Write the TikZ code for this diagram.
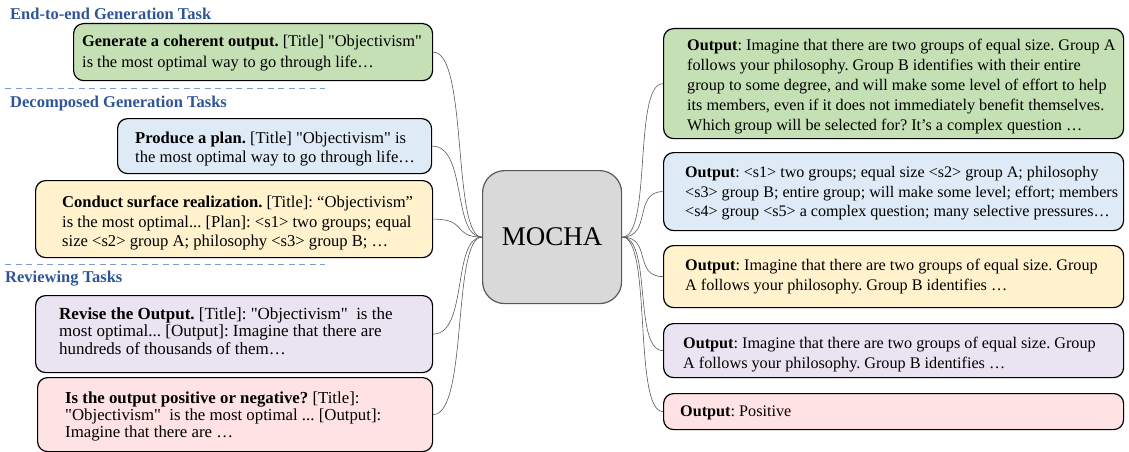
\documentclass[tikz,border=0pt]{standalone}
\usepackage{fontspec}
\setmainfont{Liberation Serif}[Ligatures=TeXOff]
\frenchspacing
\definecolor{cgreen}{HTML}{C5E0B4}
\definecolor{cblue}{HTML}{DEEBF7}
\definecolor{cyellow}{HTML}{FFF2CC}
\definecolor{cpurple}{HTML}{EAE4F2}
\definecolor{cpink}{HTML}{FFE2E4}
\definecolor{chead}{HTML}{2F5597}
\definecolor{cdash}{HTML}{7F9CCF}
\definecolor{cgrayfill}{HTML}{D9D9D9}
\definecolor{cconn}{HTML}{595959}
\tikzset{
  box/.style={draw=black, line width=1.2pt, rounded corners=10pt, anchor=north west, inner sep=0pt},
  txt/.style={anchor=west, inner sep=0pt, align=left, execute at begin node=\frenchspacing},
  heading/.style={anchor=west, inner sep=0pt, text=chead, font=\fontsize{16.5}{19}\selectfont\bfseries},
  dashline/.style={draw=cdash, line width=1pt, dash pattern=on 6pt off 4.5pt},
  conn/.style={draw=cconn, line width=0.6pt},
  centerbox/.style={draw=cconn, line width=1.2pt, fill=cgrayfill, rounded corners=22pt, anchor=north west, inner sep=0pt, font=\fontsize{27}{30}\selectfont},
}
\begin{document}
\begin{tikzpicture}[x=1pt, y=-1pt]
\useasboundingbox (0,0) rectangle (1129,452);

% headings and separators
\node[heading] (h1) at (10,14) {End-to-end Generation Task};
\coordinate (d1a) at (5,88);
\coordinate (d1b) at (325,88);
\draw[dashline] (d1a) -- (d1b);
\node[heading] (h2) at (10,104) {Decomposed Generation Tasks};
\coordinate (d2a) at (5,264);
\coordinate (d2b) at (325,264);
\draw[dashline] (d2a) -- (d2b);
\node[heading] (h3) at (5,279) {Reviewing Tasks};

% center
\node[centerbox, minimum width=139pt, minimum height=133pt] (mocha) at (482,170) {MOCHA};

% left boxes
\node[box, fill=cgreen, minimum width=359pt, minimum height=57pt] (lg) at (73,23) {};
\node[txt, font=\fontsize{16.4}{20.5}\selectfont] (lgt) at ([xshift=9pt,yshift=-1pt]lg.west)
  {\textbf{Generate a coherent output.} [Title] "Objectivism"\\is the most optimal way to go through life…};
\node[box, fill=cblue, minimum width=314pt, minimum height=55pt] (lb) at (117,118) {};
\node[txt, font=\fontsize{16.6}{19.5}\selectfont] (lbt) at ([xshift=18pt,yshift=-3pt]lb.west)
  {\textbf{Produce a plan.} [Title] "Objectivism" is\\the most optimal way to go through life…};
\node[box, fill=cyellow, minimum width=397pt, minimum height=77pt] (ly) at (35,180) {};
\node[txt, font=\fontsize{16.6}{19.5}\selectfont] (lyt) at ([xshift=27pt,yshift=-4pt]ly.west)
  {\textbf{Conduct surface realization.} [Title]: “Objectivism”\\is the most optimal... [Plan]: <s1> two groups; equal\\size <s2> group A; philosophy <s3> group B; …};
\node[box, fill=cpurple, minimum width=397pt, minimum height=77pt] (lp) at (35,295) {};
\node[txt, font=\fontsize{17}{17.5}\selectfont] (lpt) at ([xshift=24pt,yshift=3pt]lp.west)
  {\textbf{Revise the Output.} [Title]: "Objectivism"\ \ is the\\most optimal... [Output]: Imagine that there are\\hundreds of thousands of them…};
\node[box, fill=cpink, minimum width=395pt, minimum height=74pt] (lk) at (37,377) {};
\node[txt, font=\fontsize{16.8}{17}\selectfont] (lkt) at ([xshift=28pt,yshift=-2pt]lk.west)
  {\textbf{Is the output positive or negative?} [Title]:\\"Objectivism"\ \ is the most optimal ... [Output]:\\Imagine that there are …};

% right boxes
\node[box, fill=cgreen, minimum width=460pt, minimum height=110pt] (rg) at (663,28) {};
\node[txt, font=\fontsize{16.2}{20}\selectfont] (rgt) at ([xshift=24pt,yshift=-3pt]rg.west)
  {\textbf{Output}: Imagine that there are two groups of equal size. Group A\\follows your philosophy. Group B identifies with their entire\\group to some degree, and will make some level of effort to help\\its members, even if it does not immediately benefit themselves.\\Which group will be selected for? It’s a complex question …};
\node[box, fill=cblue, minimum width=460pt, minimum height=78pt] (rb) at (663,152) {};
\node[txt, font=\fontsize{16.1}{19.5}\selectfont] (rbt) at ([xshift=22pt,yshift=-2pt]rb.west)
  {\textbf{Output}: <s1> two groups; equal size <s2> group A; philosophy\\<s3> group B; entire group; will make some level; effort; members\\<s4> group <s5> a complex question; many selective pressures…};
\node[box, fill=cyellow, minimum width=460pt, minimum height=62pt] (ry) at (663,245) {};
\node[txt, font=\fontsize{16.2}{19.5}\selectfont] (ryt) at ([xshift=22pt]ry.west)
  {\textbf{Output}: Imagine that there are two groups of equal size. Group\\A follows your philosophy. Group B identifies …};
\node[box, fill=cpurple, minimum width=460pt, minimum height=54pt] (rp) at (663,323) {};
\node[txt, font=\fontsize{16.2}{19.5}\selectfont] (rpt) at ([xshift=20pt,yshift=-4pt]rp.west)
  {\textbf{Output}: Imagine that there are two groups of equal size. Group\\A follows your philosophy. Group B identifies …};
\node[box, fill=cpink, minimum width=460pt, minimum height=36pt] (rk) at (663,393) {};
\node[txt, font=\fontsize{16.2}{19.5}\selectfont] (rkt) at ([xshift=17pt,yshift=-1pt]rk.west)
  {\textbf{Output}: Positive};

% connectors left
\foreach \n in {lg,lb,ly,lp,lk}
  \draw[conn] (\n.east) .. controls +(35,0) and +(-30,0) .. (mocha.west);
% connectors right
\foreach \n in {rg,rb,ry,rp,rk}
  \draw[conn] (mocha.east) .. controls +(30,0) and +(-30,0) .. (\n.west);
\end{tikzpicture}
\end{document}
